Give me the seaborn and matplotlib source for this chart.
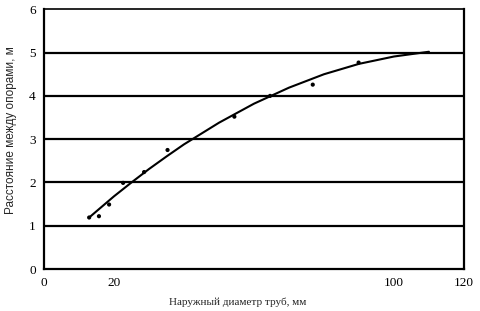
import matplotlib
matplotlib.use("Agg")
import matplotlib.pyplot as plt
import seaborn as sns
import pandas as pd

# Measured points
diam = [12.9, 15.7, 18.6, 22.6, 28.6, 35.3, 54.4, 64.6, 76.8, 89.9]
span = [1.19, 1.22, 1.49, 1.99, 2.24, 2.75, 3.52, 4.00, 4.26, 4.77]

# Trend curve
curve_x = [12.9, 20, 25, 30, 35, 40, 50, 60, 70, 80, 90, 100, 110]
curve_y = [1.19, 1.68, 2.00, 2.31, 2.60, 2.88, 3.38, 3.82, 4.19, 4.50, 4.74, 4.91, 5.02]

xticks = [0, 20, 100, 120]
yticks = [0, 1, 2, 3, 4, 5, 6]

sns.set_style("white")
plt.rcParams['font.family'] = ['Liberation Serif', 'DejaVu Serif']

fig = plt.figure(figsize=(4.81, 3.11), dpi=100)
ax = fig.add_axes([0.0915, 0.135, 0.873, 0.835])

for y in yticks[1:-1]:
    ax.axhline(y, color="black", lw=1.6, zorder=1)

pts = pd.DataFrame({"x": diam, "y": span})
cur = pd.DataFrame({"x": curve_x, "y": curve_y})
sns.lineplot(data=cur, x="x", y="y", ax=ax, color="black", lw=1.5, zorder=3)
sns.scatterplot(data=pts, x="x", y="y", ax=ax, color="black", s=9, edgecolor="none", zorder=4)

ax.set_xlim(0, 120)
ax.set_ylim(0, 6)
ax.set_xticks(xticks)
ax.set_yticks(yticks)
ax.tick_params(axis="both", length=0, labelsize=9.5, colors="black")
ax.tick_params(axis="x", pad=6)
ax.tick_params(axis="y", pad=6)
for s in ax.spines.values():
    s.set_color("black")
    s.set_linewidth(1.6)
ax.spines["top"].set_linewidth(1.2)

ax.set_xlabel("Наружный диаметр труб, мм", fontsize=8)
ax.xaxis.set_label_coords(0.462, -0.108)
ax.set_ylabel("Расстояние между опорами, м", fontsize=8.5,
              family=['Liberation Sans', 'DejaVu Sans'])
ax.yaxis.set_label_coords(-0.064, 0.535)

fig.savefig("out.png", dpi=100)
